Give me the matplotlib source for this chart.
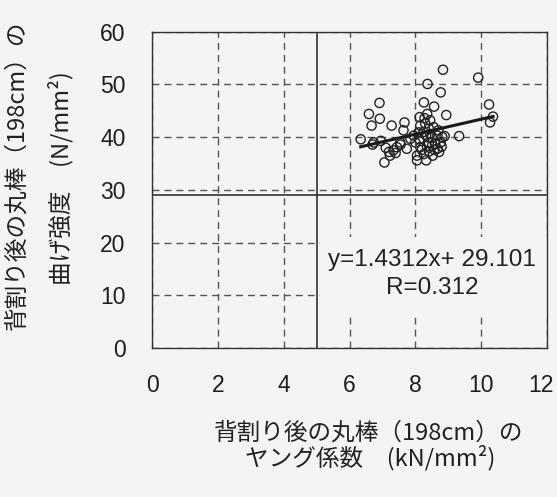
import matplotlib
matplotlib.use("Agg")
import matplotlib.pyplot as plt
from matplotlib.patches import Rectangle
from matplotlib.transforms import ScaledTranslation

# ---- data ----
x_vals = [8.84, 9.91, 8.37, 8.77, 6.91, 8.26, 8.57, 10.24,
          6.59, 6.92, 8.94, 8.36, 8.13, 8.28, 6.67, 7.28, 7.67, 10.27, 10.36,
          8.15, 8.41, 8.56, 7.64, 8.25, 8.10, 8.45,
          6.34, 6.70, 6.74, 9.33, 8.89, 8.33, 8.67, 8.82, 7.85, 7.54, 8.00, 8.41, 8.77, 8.60,
          7.44, 7.74, 8.15, 8.51, 8.67, 8.58, 7.33, 7.20, 8.26, 8.05, 8.53, 7.23, 7.40, 8.33,
          8.05, 7.06, 8.42, 8.72, 8.20, 7.55, 8.35, 8.80, 8.12, 8.50, 7.95, 8.70, 8.30, 8.45,
          6.95, 7.10]
y_vals = [52.8, 51.3, 50.1, 48.5, 46.5, 46.6, 45.8, 46.2,
          44.4, 43.5, 44.2, 44.4, 43.8, 43.6, 42.2, 42.2, 42.8, 42.8, 43.9,
          42.2, 41.6, 41.9, 41.3, 41.0, 40.9, 40.6,
          39.6, 38.6, 39.0, 40.2, 40.2, 40.3, 40.3, 40.0, 39.7, 39.0, 39.0, 39.0, 39.0, 38.8,
          38.1, 37.8, 38.1, 38.4, 37.8, 37.6, 37.5, 37.2, 36.8, 36.5, 36.5, 36.5, 37.0, 35.6,
          35.6, 35.2, 37.3, 37.2, 37.6, 38.6, 38.3, 38.2, 39.6, 39.9, 40.3, 41.3, 42.6, 43.2,
          39.3, 38.0]
slope = 1.4312
intercept = 29.101
r_value = 0.312
ref_x = 5.0
ref_y = 29.0
x_ticks = [0, 2, 4, 6, 8, 10, 12]
y_ticks = [0, 10, 20, 30, 40, 50, 60]
xlabel_lines = ["背割り後の丸棒（198cm）の", "ヤング係数　(kN/mm²)"]
ylabel_lines = ["背割り後の丸棒（198cm）の", "曲げ強度　(N/mm²)"]

bg = "#f4f4f2"
cjk = ["Noto Sans CJK JP", "DejaVu Sans"]
lat = ["Liberation Sans", "DejaVu Sans"]

fig = plt.figure(figsize=(5.57, 4.97), dpi=100, facecolor=bg)
ax = fig.add_axes([0.273, 0.300, 0.709, 0.636])
ax.set_facecolor(bg)

ax.set_xlim(0, 12)
ax.set_ylim(0, 60)
ax.set_xticks(x_ticks)
ax.set_yticks(y_ticks)
ax.tick_params(length=0, pad=19, labelsize=16.5)
for lab in ax.get_xticklabels() + ax.get_yticklabels():
    lab.set_fontfamily(lat)
    lab.set_color("#1e1e1e")
# nudge the last x tick label inward so it stays inside the figure
last = ax.get_xticklabels()[-1]
last.set_transform(last.get_transform() + ScaledTranslation(-6 / 100, 0, fig.dpi_scale_trans))

for s in ax.spines.values():
    s.set_linewidth(1.0)
    s.set_color("#333333")

ax.grid(True, color="#555555", linewidth=1.0, linestyle=(0, (5, 3.6)), zorder=1)
ax.set_axisbelow(True)

ax.axvline(ref_x, color="#222222", linewidth=1.1, zorder=2)
ax.axhline(ref_y, color="#222222", linewidth=1.1, zorder=2)

# box behind regression text
ax.add_patch(Rectangle((5.1, 6.6), 6.9, 14.5, facecolor=bg, edgecolor="none", zorder=2.5))

ax.scatter(x_vals, y_vals, s=44, facecolors="none", edgecolors="#222222",
           linewidths=1.0, zorder=3)
xl = [min(x_vals), max(x_vals)]
ax.plot(xl, [slope * v + intercept for v in xl], color="#1a1a1a", linewidth=2.2, zorder=4)

ax.text(8.5, 16.7, f"y={slope:.4f}x+ {intercept:.3f}", ha="center", va="center",
        fontsize=17.5, family=lat, color="#222222", zorder=5)
ax.text(8.5, 11.4, f"R={r_value:.3f}", ha="center", va="center",
        fontsize=17.5, family=lat, color="#222222", zorder=5)

fig.text(0.662, 0.129, xlabel_lines[0], ha="center", va="center", fontsize=17,
         family=cjk, color="#222222")
fig.text(0.664, 0.080, xlabel_lines[1], ha="center", va="center", fontsize=17,
         family=cjk, color="#222222")
fig.text(0.030, 0.648, ylabel_lines[0], ha="center", va="center", fontsize=17,
         family=cjk, rotation=90, color="#222222")
fig.text(0.108, 0.641, ylabel_lines[1], ha="center", va="center", fontsize=17,
         family=cjk, rotation=90, color="#222222")

fig.savefig("out.png", dpi=100, facecolor=bg)
